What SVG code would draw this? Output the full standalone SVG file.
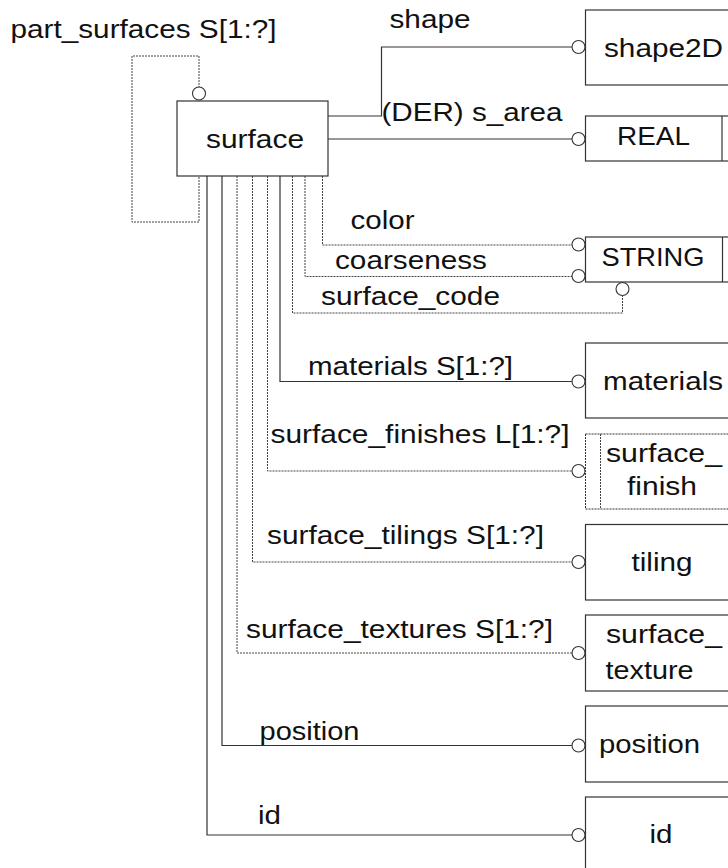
<svg xmlns="http://www.w3.org/2000/svg" width="728" height="868" viewBox="0 0 728 868">
<style>
text{font-family:"Liberation Sans",Arial,sans-serif;font-size:25px;fill:#111}
.box{fill:#fff;stroke:#333;stroke-width:1.2}
.dbox{fill:#fff;stroke:#333;stroke-width:1;stroke-dasharray:2 1}
.s{fill:none;stroke:#333;stroke-width:1.2}
.d{fill:none;stroke:#444;stroke-width:1;stroke-dasharray:2 1}
.c{fill:#fff;stroke:#333;stroke-width:1.1}
</style>
<rect width="728" height="868" fill="#fff"/>
<g id="connectors">
  <!-- part_surfaces self loop -->
  <polyline class="d" points="199,100 199,56 132,56 132,222 199,222 199,176"/>
  <circle class="c" cx="199" cy="93.5" r="6.5"/>
  <!-- shape -->
  <polyline class="s" points="328,116 381.5,116 381.5,47 572,47"/>
  <circle class="c" cx="578.5" cy="47" r="6.5"/>
  <!-- s_area -->
  <line class="s" x1="328" y1="139" x2="572" y2="139"/>
  <circle class="c" cx="578.5" cy="139" r="6.5"/>
  <!-- color -->
  <polyline class="d" points="322.5,176 322.5,245 572,245"/>
  <circle class="c" cx="578.5" cy="244.5" r="6.5"/>
  <!-- coarseness -->
  <polyline class="d" points="305,176 305,276.5 572,276.5"/>
  <circle class="c" cx="578.5" cy="276" r="6.5"/>
  <!-- surface_code -->
  <polyline class="d" points="292.5,176 292.5,313 622.5,313 622.5,295.5"/>
  <circle class="c" cx="622.5" cy="289" r="6.5"/>
  <!-- materials -->
  <polyline class="s" points="280,176 280,381.5 572,381.5"/>
  <circle class="c" cx="578.5" cy="381.5" r="6.5"/>
  <!-- surface_finishes -->
  <polyline class="d" points="267.5,176 267.5,471 572,471"/>
  <circle class="c" cx="578.5" cy="471" r="6.5"/>
  <!-- surface_tilings -->
  <polyline class="d" points="252.5,176 252.5,562 572,562"/>
  <circle class="c" cx="578.5" cy="562" r="6.5"/>
  <!-- surface_textures -->
  <polyline class="d" points="237,176 237,653 572,653"/>
  <circle class="c" cx="578.5" cy="653" r="6.5"/>
  <!-- position -->
  <polyline class="s" points="222,176 222,745.5 572,745.5"/>
  <circle class="c" cx="578.5" cy="745.5" r="6.5"/>
  <!-- id -->
  <polyline class="s" points="207,176 207,835 572,835"/>
  <circle class="c" cx="578.5" cy="835" r="6.5"/>
</g>
<g id="labels">
  <text x="10.5" y="38" textLength="266" lengthAdjust="spacingAndGlyphs">part_surfaces S[1:?]</text>
  <text x="389.5" y="28" textLength="81" lengthAdjust="spacingAndGlyphs">shape</text>
  <text x="381.5" y="121" textLength="181" lengthAdjust="spacingAndGlyphs">(DER) s_area</text>
  <text x="350.5" y="229" textLength="64" lengthAdjust="spacingAndGlyphs">color</text>
  <text x="335" y="269" textLength="152" lengthAdjust="spacingAndGlyphs">coarseness</text>
  <text x="321" y="305" textLength="179" lengthAdjust="spacingAndGlyphs">surface_code</text>
  <text x="308" y="375" textLength="205" lengthAdjust="spacingAndGlyphs">materials S[1:?]</text>
  <text x="270.5" y="443" textLength="299" lengthAdjust="spacingAndGlyphs">surface_finishes L[1:?]</text>
  <text x="267" y="544" textLength="277" lengthAdjust="spacingAndGlyphs">surface_tilings S[1:?]</text>
  <text x="246" y="638" textLength="307" lengthAdjust="spacingAndGlyphs">surface_textures S[1:?]</text>
  <text x="259.5" y="740" textLength="100" lengthAdjust="spacingAndGlyphs">position</text>
  <text x="258" y="824" textLength="23" lengthAdjust="spacingAndGlyphs">id</text>
</g>
<g id="surface">
  <rect class="box" x="177" y="101" width="151" height="75"/>
  <text x="206" y="148" textLength="98" lengthAdjust="spacingAndGlyphs">surface</text>
</g>
<g id="shape2D">
  <rect class="box" x="585.5" y="10" width="160" height="75"/>
  <text x="604" y="57" textLength="119" lengthAdjust="spacingAndGlyphs">shape2D</text>
</g>
<g id="REAL">
  <rect class="box" x="585.5" y="116" width="160" height="45"/>
  <line class="s" x1="722" y1="116" x2="722" y2="161"/>
  <text x="617" y="145" textLength="73" lengthAdjust="spacingAndGlyphs">REAL</text>
</g>
<g id="STRING">
  <rect class="box" x="585.5" y="237" width="160" height="45"/>
  <line class="s" x1="722.5" y1="237" x2="722.5" y2="282"/>
  <text x="601.5" y="266" textLength="103" lengthAdjust="spacingAndGlyphs">STRING</text>
</g>
<g id="materials">
  <rect class="box" x="585.5" y="343" width="160" height="75"/>
  <text x="603" y="390" textLength="120" lengthAdjust="spacingAndGlyphs">materials</text>
</g>
<g id="surface_finish">
  <rect class="dbox" x="585.5" y="434" width="160" height="75"/>
  <line class="d" x1="600.5" y1="434" x2="600.5" y2="509"/>
  <text x="606" y="462" textLength="116" lengthAdjust="spacingAndGlyphs">surface_</text>
  <text x="627" y="495" textLength="70" lengthAdjust="spacingAndGlyphs">finish</text>
</g>
<g id="tiling">
  <rect class="box" x="585.5" y="524.5" width="160" height="75.5"/>
  <text x="631.5" y="571" textLength="61" lengthAdjust="spacingAndGlyphs">tiling</text>
</g>
<g id="surface_texture">
  <rect class="box" x="585.5" y="615" width="160" height="76"/>
  <text x="606" y="643" textLength="116" lengthAdjust="spacingAndGlyphs">surface_</text>
  <text x="605.5" y="679" textLength="88" lengthAdjust="spacingAndGlyphs">texture</text>
</g>
<g id="position">
  <rect class="box" x="585.5" y="706" width="160" height="76"/>
  <text x="599" y="753" textLength="101" lengthAdjust="spacingAndGlyphs">position</text>
</g>
<g id="id">
  <rect class="box" x="585.5" y="797" width="160" height="90"/>
  <text x="649.5" y="843" textLength="23" lengthAdjust="spacingAndGlyphs">id</text>
</g>
</svg>
